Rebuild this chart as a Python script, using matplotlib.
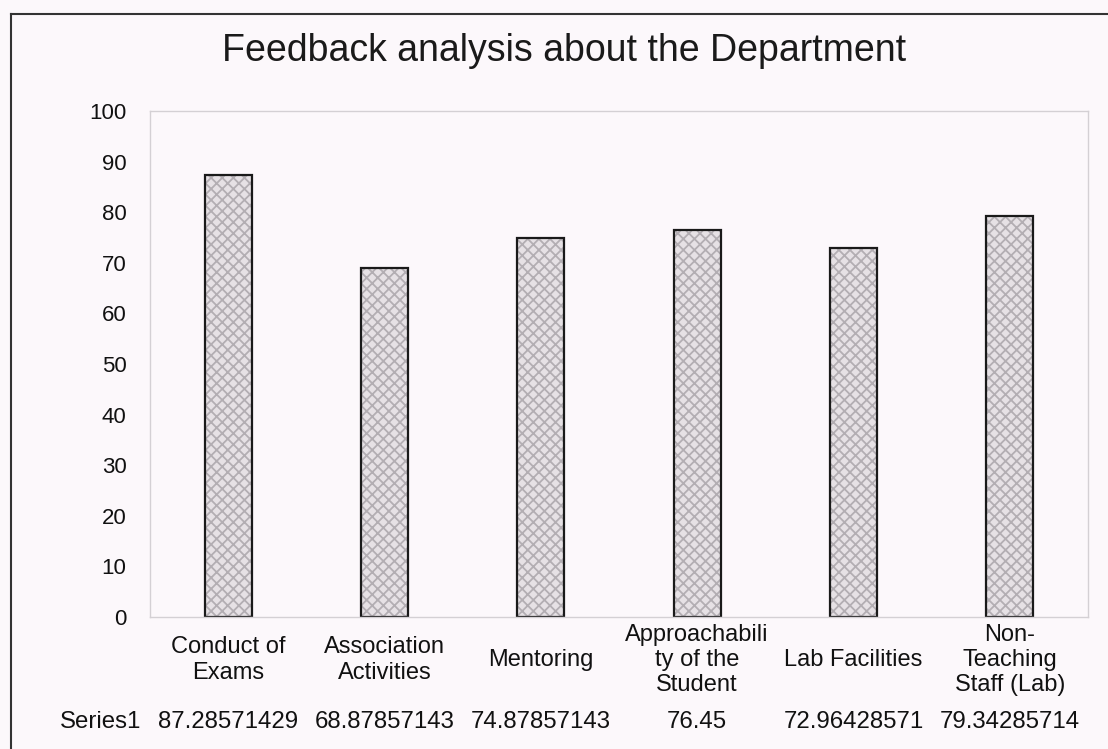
import matplotlib.pyplot as plt
import matplotlib.transforms as mtransforms
from matplotlib.lines import Line2D

# values from the chart's data table
categories = ['Conduct of\nExams', 'Association\nActivities', 'Mentoring',
              'Approachabili\nty of the\nStudent', 'Lab Facilities',
              'Non-\nTeaching\nStaff (Lab)']
values = [87.28571429, 68.87857143, 74.87857143, 76.45, 72.96428571, 79.34285714]
value_labels = ['87.28571429', '68.87857143', '74.87857143', '76.45',
                '72.96428571', '79.34285714']
series_name = 'Series1'
yticks = list(range(0, 101, 10))

plt.rcParams['font.family'] = ['Liberation Sans', 'DejaVu Sans']
plt.rcParams['hatch.linewidth'] = 1.3

bg = '#fcf8fb'
fig = plt.figure(figsize=(11.08, 7.49), dpi=100, facecolor=bg)
ax = fig.add_axes([150 / 1108, 1 - 617 / 749, 938 / 1108, 506 / 749])
ax.set_facecolor(bg)

x = list(range(len(categories)))
# hatched fill, then a black outline on top
ax.bar(x, values, width=0.3, color='#e6e1e5', edgecolor='#b3aeb3', hatch='xxx', linewidth=0)
ax.bar(x, values, width=0.3, fill=False, edgecolor='#1a1a1a', linewidth=1.6)

ax.set_xlim(-0.5, len(categories) - 0.5)
ax.set_ylim(0, 100)
ax.set_yticks(yticks)
ax.set_xticks([])
ax.tick_params(axis='y', length=0, pad=17, labelsize=16, labelcolor='#111111')
for s in ax.spines.values():
    s.set_color('#d4d0d4')
    s.set_linewidth(1.0)

# category labels and data table row
trans = mtransforms.blended_transform_factory(ax.transData, fig.transFigure)
for xi, cat, vl in zip(x, categories, value_labels):
    ax.text(xi, 1 - 660 / 749, cat, transform=trans, ha='center', va='center',
            fontsize=17, linespacing=1.2, color='#111111')
    ax.text(xi, 1 - 722 / 749, vl, transform=trans, ha='center', va='center',
            fontsize=17.3, color='#111111')
fig.text(101 / 1108, 1 - 722 / 749, series_name, ha='center', va='center',
         fontsize=17.3, color='#111111')

fig.text(564 / 1108, 1 - 51 / 749, 'Feedback analysis about the Department',
         ha='center', va='center', fontsize=27, color='#1a1a1a')

# outer border of the chart
fig.add_artist(Line2D([11 / 1108, 1], [1 - 14 / 749, 1 - 14 / 749],
                      transform=fig.transFigure, color='#333333', linewidth=1.5))
fig.add_artist(Line2D([11 / 1108, 11 / 1108], [0, 1 - 14 / 749],
                      transform=fig.transFigure, color='#333333', linewidth=1.5))

fig.savefig('out.png', dpi=100, facecolor=bg)
